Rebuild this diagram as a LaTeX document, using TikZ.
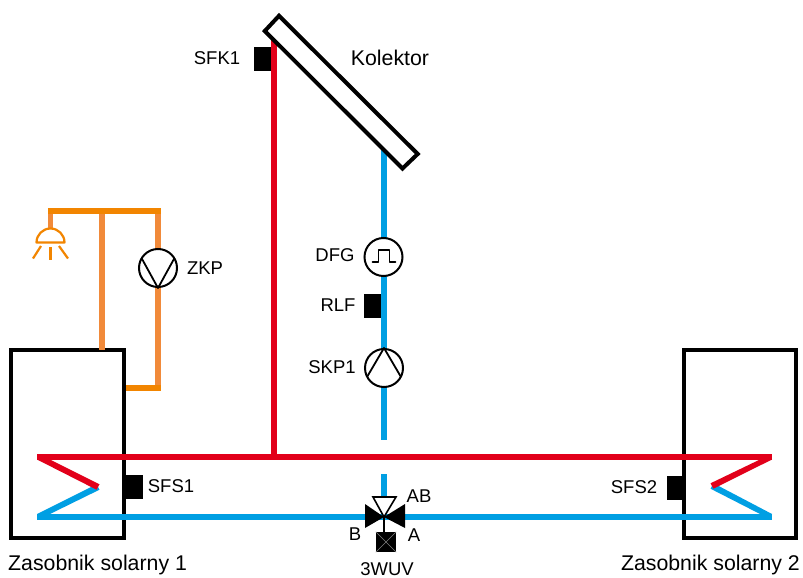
\documentclass[tikz,border=0pt]{standalone}
\usepackage{fontspec}
\setmainfont{Liberation Sans}
\definecolor{pipered}{HTML}{E2001A}
\definecolor{pipeblue}{HTML}{009FE3}
\definecolor{orangedark}{HTML}{F28500}
\definecolor{orangelight}{HTML}{F18A3A}
\tikzset{
  lab/.style={inner sep=0pt,font=\fontsize{18.5bp}{20bp}\selectfont},
  labbig/.style={inner sep=0pt,font=\fontsize{21.3bp}{23bp}\selectfont},
  tank/.style={draw=black,line width=4bp,fill=none},
  sensor/.style={fill=black,draw=none,inner sep=0pt,minimum width=17bp,minimum height=24bp,rectangle},
  redpipe/.style={draw=pipered,line width=6bp},
  bluepipe/.style={draw=pipeblue,line width=6bp},
  hotpipe/.style={draw=orangedark,line width=5.5bp},
  warmpipe/.style={draw=orangelight,line width=5.5bp},
  dev/.style={circle,draw=black,line width=2bp,fill=white,inner sep=0pt,minimum size=38bp},
  sym/.style={draw=black,line width=1.8bp,line join=round},
  lamp/.style={draw=orangedark,line width=2.2bp}
}
\begin{document}
\begin{tikzpicture}[x=1bp,y=-1bp]
\useasboundingbox (0,0) rectangle (803,578);
\fill[white] (0,0) rectangle (803,578);
% named points
\coordinate (redT) at (274,40);
\coordinate (redB) at (274,456.5);
\coordinate (blueT) at (384,150);
\coordinate (blueGapA) at (384,440);
\coordinate (blueGapB) at (384,474);
\coordinate (vC) at (384,517);
\coordinate (lampTop) at (50.5,229);
\coordinate (oTL) at (50.5,211);
\coordinate (oTM) at (102,211);
\coordinate (oTR) at (158,211);
\coordinate (oBR) at (158,388);
\coordinate (oBL) at (126,388);
\coordinate (oTank) at (102,350);
% tanks
\node[tank,rectangle,inner sep=0pt,minimum width=112bp,minimum height=188bp] (tankA) at (67.5,444) {};
\node[tank,rectangle,inner sep=0pt,minimum width=112bp,minimum height=188bp] (tankB) at (740,444) {};
% orange circuit
\draw[warmpipe] (oTL) -- (lampTop);
\draw[warmpipe] (oTM) -- (oTank);
\draw[warmpipe] (oTR) -- (oBR);
\draw[hotpipe] ([xshift=-2.75bp]oTL) -- ([xshift=2.75bp]oTR);
\draw[hotpipe] (oBL) -- ([xshift=2.75bp]oBR);
% lamp
\draw[lamp,line join=round] (36.5,242.5) arc[start angle=180,end angle=360,radius=14] -- cycle;
\draw[lamp] (50.5,247) -- (50.5,259.5);
\draw[lamp] (41,246) -- (33,258.5);
\draw[lamp] (59,246) -- (68,258.5);
% solar circuit
\draw[redpipe] (redT) -- (redB);
\draw[bluepipe] (blueT) -- (blueGapA);
\draw[bluepipe] (blueGapB) -- (vC);
\fill[pipeblue] (37,514) -- (772,514) -- (772,520) -- (37,520) -- cycle;
\fill[pipeblue] (37,514) -- (50,514) -- (99.5,489.7) -- (96.5,484.3) -- cycle;
\fill[pipeblue] (772,514) -- (760,514) -- (710.5,488.7) -- (713.5,483.3) -- cycle;
\fill[pipered] (37,453.5) -- (772,453.5) -- (772,459.5) -- (37,459.5) -- cycle;
\fill[pipered] (37,459.5) -- (50,459.5) -- (99.5,484.3) -- (96.5,489.7) -- cycle;
\fill[pipered] (772,459.5) -- (760,459.5) -- (710.5,483.3) -- (713.5,488.7) -- cycle;
% collector
\draw[draw=black,line width=4bp,fill=white,line join=miter] (279,15.8) -- (264.8,31) -- (402.5,168.5) -- (417.7,154) -- cycle;
\node[labbig] (lKolektor) at (390,58) {Kolektor};
% sensors
\node[sensor] (sfk) at (262.5,59) {};
\node[sensor] (rlf) at (372.5,306) {};
\node[sensor] (sfsa) at (134,487) {};
\node[sensor] (sfsb) at (675,487.5) {};
% devices
\node[dev] (dfg) at (383.5,257) {};
\draw[sym,line cap=round] ([shift={(-11,5)}]dfg.center) -- ([shift={(-5,5)}]dfg.center) -- ([shift={(-5,-7)}]dfg.center) -- ([shift={(6,-7)}]dfg.center) -- ([shift={(6,5)}]dfg.center) -- ([shift={(12,5)}]dfg.center);
\node[dev] (skp) at (384,368) {};
\draw[sym] ([shift={(-17,9)}]skp.center) -- (skp.north) -- ([shift={(17,9)}]skp.center);
\node[dev] (zkp) at (158,268) {};
\draw[sym] ([shift={(-16.5,-10)}]zkp.center) -- (zkp.south) -- ([shift={(16.5,-10)}]zkp.center);
% valve
\fill[black] (365,504) -- (vC) -- (365,528) -- cycle;
\fill[black] (405,504) -- (vC) -- (405,528) -- cycle;
\draw[draw=black,line width=1.6bp,fill=white,line join=miter] (373,497) -- (396,497) -- (vC) -- cycle;
\node[fill=black,draw=none,inner sep=0pt,minimum size=20bp,rectangle] (act) at (386,542) {};
\draw[black,line width=2bp] (vC) -- (384,532);
\draw[gray,line width=0.6bp] (act.north west) -- (act.south east) (act.north east) -- (act.south west);
% labels
\node[lab] (lSFK) at (217,58) {SFK1};
\node[lab] (lDFG) at (335,255) {DFG};
\node[lab] (lRLF) at (338,305) {RLF};
\node[lab] (lSKP) at (332,367) {SKP1};
\node[lab] (lZKP) at (205,268) {ZKP};
\node[lab] (lSFSa) at (171,486) {SFS1};
\node[lab] (lSFSb) at (634,487) {SFS2};
\node[lab] (lAB) at (419,496) {AB};
\node[lab] (lB) at (355,534) {B};
\node[lab] (lA) at (414,535) {A};
\node[lab] (lWUV) at (387,569) {3WUV};
\node[labbig,anchor=west] (lZa) at (8,565) {Zasobnik solarny 1};
\node[labbig,anchor=east] (lZb) at (800,565) {Zasobnik solarny 2};
\end{tikzpicture}
\end{document}
